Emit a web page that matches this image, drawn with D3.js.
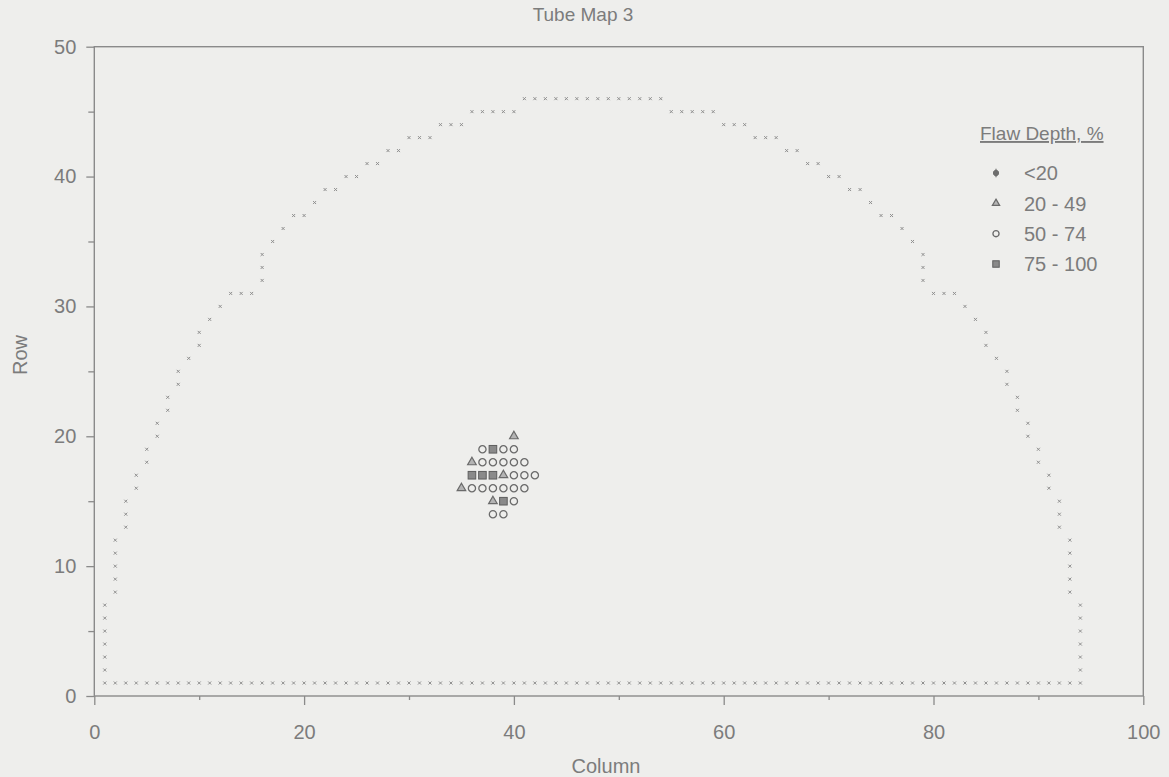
<!DOCTYPE html>
<html><head><meta charset="utf-8">
<script src="https://cdn.jsdelivr.net/npm/d3@7"></script>
<style>
body{margin:0;background:#eeeeec;}
svg text{font-family:"Liberation Sans",Arial,Helvetica,sans-serif;fill:#7c7c7c;}
</style>
</head><body>
<svg id="chart" width="1169" height="777"></svg>
<script>
// ---- data ----
const chartTitle = "Tube Map 3";
const xLabel = "Column";
const yLabel = "Row";
const xMajorTicks = [0, 20, 40, 60, 80, 100];
const xMinorTicks = [10, 30, 50, 70, 90];
const yMajorTicks = [0, 10, 20, 30, 40, 50];
const yMinorTicks = [5, 15, 25, 35, 45];
const legendTitle = "Flaw Depth, %";
const legendLabels = ["<20", "20 - 49", "50 - 74", "75 - 100"];

// tube-sheet outline, left half (right half is the mirror, column 95 - c)
const outlineRow  = [1,2,3,4,5,6,7,8,9,10,11,12,13,14,15,16,17,18,19,20,21,22,23,24,25,26,27,28,29,30,31,32,33,34,35,36,37,38,39,40,41,42,43,44,45,46];
const outlineFrom = [1,1,1,1,1,1,1,2,2,2,2,2,3,3,3,4,4,5,5,6,6,7,7,8,8,9,10,10,11,12,13,16,16,16,17,18,19,21,22,24,26,28,30,33,36,41];
const outlineTo   = [47,1,1,1,1,1,1,2,2,2,2,2,3,3,3,4,4,5,5,6,6,7,7,8,8,9,10,10,11,12,15,16,16,16,17,18,20,21,23,25,27,29,32,35,40,47];
const outlineMirror = 95;

// flaws: column, row, depth class (0:<20, 1:20-49, 2:50-74, 3:75-100)
const flawCol   = [40, 37,38,39,40, 36,37,38,39,40,41, 36,37,38,39,40,41,42, 35,36,37,38,39,40,41, 38,39,40, 38,39];
const flawRow   = [20, 19,19,19,19, 18,18,18,18,18,18, 17,17,17,17,17,17,17, 16,16,16,16,16,16,16, 15,15,15, 14,14];
const flawClass = [1,  2,3,2,2,     1,2,2,2,2,2,       3,3,3,1,2,2,2,          1,2,2,2,2,2,2,          1,3,2,     2,2];

// ---- drawing ----
const svg = d3.select("#chart");
const x = d3.scaleLinear().domain([0, 100]).range([94.3, 1143.3]);
const y = d3.scaleLinear().domain([0, 50]).range([696, 46.7]);
const axisColor = "#8a8a8a";

// frame
svg.append("rect")
  .attr("x", x(0)).attr("y", y(50))
  .attr("width", x(100) - x(0)).attr("height", y(0) - y(50))
  .attr("fill", "none").attr("stroke", axisColor).attr("stroke-width", 1.4);

function styleAxis(g) {
  g.select(".domain").remove();
  g.selectAll("line").attr("stroke", axisColor).attr("stroke-width", 1.3);
  g.selectAll("text").attr("font-size", 20).attr("fill", "#7e7e7e")
    .style("font-family", '"Liberation Sans",Arial,sans-serif');
}

svg.append("g").attr("transform", `translate(0,${y(0)})`)
  .call(d3.axisBottom(x).tickValues(xMajorTicks).tickSize(9).tickPadding(20).tickFormat(d3.format("d")))
  .call(styleAxis);
svg.append("g").attr("transform", `translate(0,${y(0)})`)
  .call(d3.axisBottom(x).tickValues(xMinorTicks).tickSize(4).tickFormat(""))
  .call(styleAxis);
svg.append("g").attr("transform", `translate(${x(0)},0)`)
  .call(d3.axisLeft(y).tickValues(yMajorTicks).tickSize(8).tickPadding(10).tickFormat(d3.format("d")))
  .call(styleAxis);
svg.append("g").attr("transform", `translate(${x(0)},0)`)
  .call(d3.axisLeft(y).tickValues(yMinorTicks).tickSize(6).tickFormat(""))
  .call(styleAxis);

// titles
svg.append("text").attr("x", 583).attr("y", 21).attr("text-anchor", "middle")
  .attr("font-size", 19).text(chartTitle);
svg.append("text").attr("x", 606).attr("y", 773).attr("text-anchor", "middle")
  .attr("font-size", 20).text(xLabel);
svg.append("text").attr("transform", "translate(27,355) rotate(-90)").attr("text-anchor", "middle")
  .attr("font-size", 20).text(yLabel);

// outline points
const outlinePts = [];
outlineRow.forEach((r, i) => {
  d3.range(outlineFrom[i], outlineTo[i] + 1).forEach(c => {
    outlinePts.push([c, r]);
    outlinePts.push([outlineMirror - c, r]);
  });
});
const og = svg.append("g").attr("stroke", "#8e8e8e").attr("stroke-width", 1);
og.selectAll("path").data(outlinePts).join("path")
  .attr("transform", d => `translate(${x(d[0])},${y(d[1])})`)
  .attr("d", "M-1.5,-1.5L1.5,1.5M-1.5,1.5L1.5,-1.5");

// marker drawing
function drawMarker(sel, cls, scale) {
  const s = scale || 1;
  if (cls === 0) {
    sel.append("path").attr("d", d3.symbol(d3.symbolCircle, 30 * s * s)())
      .attr("fill", "#6e6e6e").attr("stroke", "#6e6e6e");
    sel.append("line").attr("y1", -5 * s).attr("y2", 5 * s).attr("stroke", "#6e6e6e").attr("stroke-width", 1.2);
  } else if (cls === 1) {
    sel.append("path").attr("d", d3.symbol(d3.symbolTriangle, 32 * s * s)())
      .attr("fill", "#b4b4b4").attr("stroke", "#6a6a6a").attr("stroke-width", 1.2);
  } else if (cls === 2) {
    sel.append("circle").attr("r", 3.6 * s)
      .attr("fill", "#eeeeec").attr("stroke", "#6a6a6a").attr("stroke-width", 1.3);
  } else {
    sel.append("rect").attr("x", -3.8 * s).attr("y", -3.8 * s).attr("width", 7.6 * s).attr("height", 7.6 * s)
      .attr("fill", "#8a8a8a").attr("stroke", "#5e5e5e").attr("stroke-width", 1);
  }
}

const flaws = flawCol.map((c, i) => ({ c, r: flawRow[i], k: flawClass[i] }));
svg.append("g").selectAll("g").data(flaws).join("g")
  .attr("transform", d => `translate(${x(d.c)},${y(d.r)})`)
  .each(function (d) { drawMarker(d3.select(this), d.k, 1); });

// legend
const lg = svg.append("g");
const lt = lg.append("text").attr("x", 980).attr("y", 140).attr("font-size", 19)
  .attr("text-decoration", "underline").text(legendTitle);
const legendY = d3.scalePoint().domain(legendLabels).range([173, 264]);
legendLabels.forEach((lab, i) => {
  const g = lg.append("g").attr("transform", `translate(996,${legendY(lab)})`);
  drawMarker(g, i, 0.85);
  lg.append("text").attr("x", 1024).attr("y", legendY(lab)).attr("dy", "0.36em")
    .attr("font-size", 20).text(lab);
});
</script>
</body></html>
